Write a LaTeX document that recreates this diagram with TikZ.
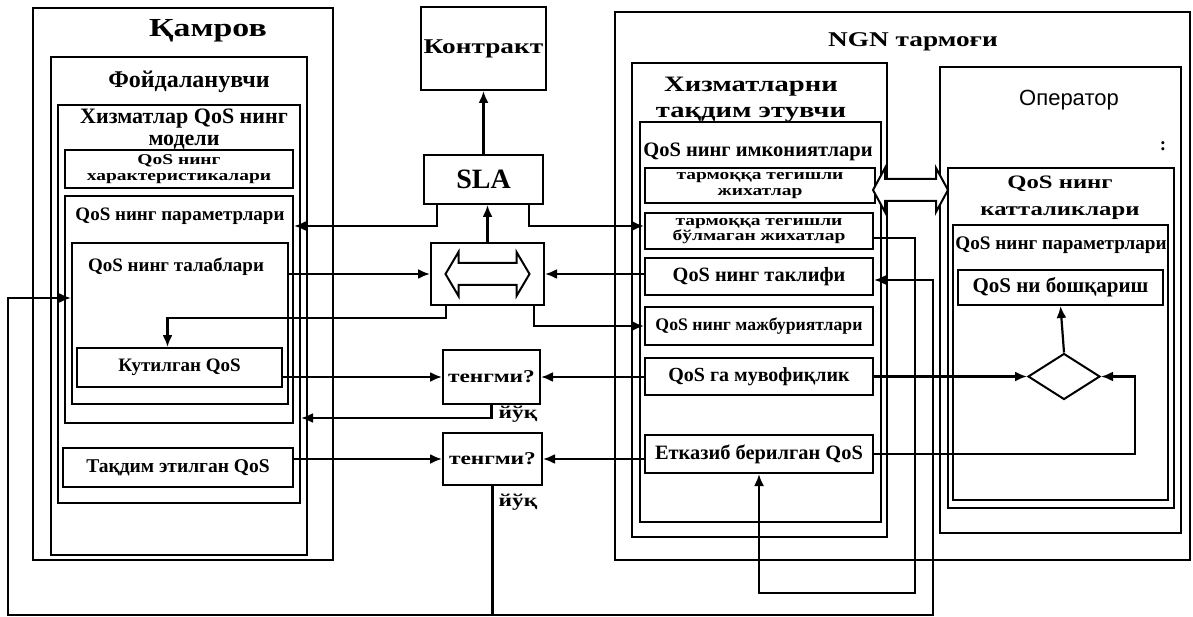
\documentclass[tikz,border=0pt]{standalone}
\usepackage{fontspec}
\setmainfont{Liberation Serif}
\newfontfamily\widefont{Liberation Serif}[FakeStretch=1.3]
\newfontfamily\opfont{Liberation Sans}
\usetikzlibrary{arrows.meta, positioning, fit, shapes.geometric}

\tikzset{
  basebox/.style={rectangle, draw=black, line width=2pt, inner sep=0pt, align=center,
    font=\bfseries\fontsize{19}{21}\selectfont},
  framebox/.style={basebox},
  smallbox/.style={basebox, font=\widefont\bfseries\fontsize{15}{15.5}\selectfont},
  titletext/.style={align=center, inner sep=0pt, font=\bfseries\fontsize{19}{24}\selectfont},
  widetitle/.style={titletext, font=\widefont\bfseries\fontsize{21}{26}\selectfont},
  decisionbox/.style={diamond, draw=black, line width=2pt, inner sep=0pt, aspect=1.55},
  arrow/.style={-{Latex[length=12pt,width=10pt]}, line width=2.2pt},
  hollow/.style={draw=black, fill=white, line width=2pt, line join=miter}
}

\begin{document}
\begin{tikzpicture}[x=1pt, y=-1pt]
  \useasboundingbox[fill=white] (0,0) rectangle (1193,617);

  % user side
  \node[framebox, fit={(33,8) (333,560)}] (kamrov) {};
  \node[framebox, fit={(51,57) (307,555)}] (user) {};
  \node[framebox, fit={(58,105) (300,503)}] (model) {};
  \node[smallbox, minimum width=228pt, minimum height=38pt] (charact) at (179,169) {QoS нинг\\характеристикалари};
  \node[framebox, fit={(65,196) (293,423)}] (params) {};
  \node[framebox, fit={(72,243) (288,404)}] (reqs) {};
  \node[basebox, minimum width=205pt, minimum height=39pt] (expected) at (179.5,367.5) {Кутилган QoS};
  \node[basebox, minimum width=230pt, minimum height=39pt, font=\bfseries\fontsize{19.5}{21}\selectfont] (offered) at (178,467.5) {Тақдим этилган QoS};
  \node[widetitle, font=\widefont\bfseries\fontsize{26}{28}\selectfont] (kamrovtitle) at (208,31) {Қамров};
  \node[titletext, font=\bfseries\fontsize{24}{26}\selectfont] (usertitle) at (189,82) {Фойдаланувчи};
  \node[titletext, font=\bfseries\fontsize{22}{22}\selectfont] (modeltitle) at (184,129) {Хизматлар QoS нинг\\модели};
  \node[titletext] (paramstitle) at (180,216) {QoS нинг параметрлари};
  \node[titletext] (reqstitle) at (176,267) {QoS нинг талаблари};

  % middle
  \node[basebox, font=\widefont\bfseries\fontsize{21}{26}\selectfont, minimum width=125pt, minimum height=83pt] (contract) at (483.5,48.5) {Контракт};
  \node[basebox, font=\bfseries\fontsize{28}{28}\selectfont, minimum width=119pt, minimum height=49pt] (sla) at (483.5,179.5) {SLA};
  \node[basebox, minimum width=113pt, minimum height=62pt] (swap) at (487.5,274) {};
  \node[basebox, font=\widefont\bfseries\fontsize{18}{20}\selectfont, minimum width=97pt, minimum height=54pt] (eq1) at (491.5,377) {тенгми?};
  \node[basebox, font=\widefont\bfseries\fontsize{18}{20}\selectfont, minimum width=99pt, minimum height=52pt] (eq2) at (492.5,459) {тенгми?};
  \node[widetitle, font=\widefont\bfseries\fontsize{18}{20}\selectfont] (nofirst) at (518,414) {йўқ};
  \node[widetitle, font=\widefont\bfseries\fontsize{18}{20}\selectfont] (nosecond) at (518,502) {йўқ};

  % network side
  \node[framebox, fit={(615,12) (1190,560)}] (ngn) {};
  \node[framebox, fit={(632,63) (887,537)}] (provider) {};
  \node[framebox, fit={(640,122) (881,522)}] (caps) {};
  \node[smallbox, minimum width=230pt, minimum height=35pt] (netasp) at (760,185.5) {тармоққа тегишли\\жихатлар};
  \node[smallbox, minimum width=228pt, minimum height=36pt] (nonnet) at (759,231) {тармоққа тегишли\\бўлмаган жихатлар};
  \node[basebox, minimum width=228pt, minimum height=37pt, font=\bfseries\fontsize{20.3}{22}\selectfont] (offer) at (759,276.5) {QoS нинг таклифи};
  \node[basebox, minimum width=228pt, minimum height=38pt, font=\bfseries\fontsize{17.7}{20}\selectfont] (oblig) at (759,326) {QoS нинг мажбуриятлари};
  \node[basebox, minimum width=228pt, minimum height=37pt, font=\bfseries\fontsize{20}{22}\selectfont] (compl) at (759,376.5) {QoS га мувофиқлик};
  \node[basebox, minimum width=228pt, minimum height=38pt, font=\bfseries\fontsize{20.4}{22}\selectfont] (deliv) at (759,454) {Етказиб берилган QoS};
  \node[framebox, fit={(940,67) (1181,533)}] (operator) {};
  \node[framebox, fit={(948,168) (1174,508)}] (quant) {};
  \node[framebox, fit={(953,225) (1168,500)}] (oparams) {};
  \node[basebox, minimum width=205pt, minimum height=35pt, font=\bfseries\fontsize{21}{22}\selectfont] (mgmt) at (1060.5,287.5) {QoS ни бошқариш};
  \node[decisionbox, minimum width=72pt, minimum height=46pt] (check) at (1064,376.5) {};
  \node[widetitle] (ngntitle) at (913,42) {NGN тармоғи};
  \node[widetitle, font=\widefont\bfseries\fontsize{22}{26}\selectfont] (providertitle) at (751,100) {Хизматларни\\тақдим этувчи};
  \node[titletext, font=\bfseries\fontsize{20.5}{22}\selectfont] (capstitle) at (758,152) {QoS нинг имкониятлари};
  \node[titletext, font=\opfont\fontsize{22}{24}\selectfont] (optitle) at (1069,100) {Оператор};
  \node[titletext] (opdots) at (1163,146) {:};
  \node[widetitle, font=\widefont\bfseries\fontsize{19}{27}\selectfont] (quanttitle) at (1060,198) {QoS нинг\\катталиклари};
  \node[titletext, font=\bfseries\fontsize{19.2}{22}\selectfont] (oparamstitle) at (1061,245) {QoS нинг параметрлари};

  % hollow double arrows
  \coordinate (link) at (910.5,190);
  \draw[hollow, shift={(swap.center)}] (-42,0) -- (-29,-22) -- (-29,-11) -- (29,-11) -- (29,-22)
    -- (42,0) -- (29,22) -- (29,11) -- (-29,11) -- (-29,22) -- cycle;
  \draw[hollow, shift={(link)}] (-37.5,0) -- (-25.5,-22) -- (-25.5,-11) -- (25.5,-11) -- (25.5,-22)
    -- (37.5,0) -- (25.5,22) -- (25.5,11) -- (-25.5,11) -- (-25.5,22) -- cycle;

  % rails
  \coordinate (slarail) at (0,226);
  \coordinate (norail) at (0,418);
  \coordinate (loopleft) at (8,615);
  \coordinate (loopright) at (933,615);
  \coordinate (reqrail) at (0,298);
  \coordinate (offerrail) at (0,280);
  \coordinate (deliverloop) at (915,593);
  \coordinate (checkloop) at (1135,376.5);

  \draw[arrow] (sla) -- (contract);
  \draw[arrow] (swap.north) -- (swap.north |- sla.south);
  \draw[arrow] ([xshift=14pt]sla.south west) |- (slarail -| params.east);
  \draw[arrow] ([xshift=-15pt]sla.south east) |- (slarail -| nonnet.west);
  \draw[arrow] (swap.west -| reqs.east) -- (swap.west);
  \draw[arrow] (swap.east -| offer.west) -- (swap.east);
  \draw[arrow] ([xshift=16pt]swap.south west) -- ++(0,12) -| ([xshift=-12pt]expected.north);
  \draw[arrow] ([xshift=-11pt]swap.south east) |- (oblig.west);
  \draw[arrow] (eq1.west -| expected.east) -- (eq1.west);
  \draw[arrow] (eq1.east -| compl.west) -- (eq1.east);
  \draw[arrow] (eq1.south) |- (norail -| model.east);
  \draw[arrow] (eq2.west -| offered.east) -- (eq2.west);
  \draw[arrow] (eq2.east -| deliv.west) -- (eq2.east);
  \draw[arrow] (eq2.south) |- (loopleft) |- (reqrail -| reqs.west);
  \draw[arrow] (eq2.south) |- (loopright) |- (offerrail -| offer.east);
  \draw[arrow] ([yshift=-7pt]nonnet.east) -| (deliverloop) -| (deliv.south);
  \draw[arrow] (compl.east) -- (check.west);
  \draw[arrow] (deliv.east) -| (checkloop) -- (check.east);
  \draw[arrow] (check.north) -- (mgmt.south);
\end{tikzpicture}
\end{document}
